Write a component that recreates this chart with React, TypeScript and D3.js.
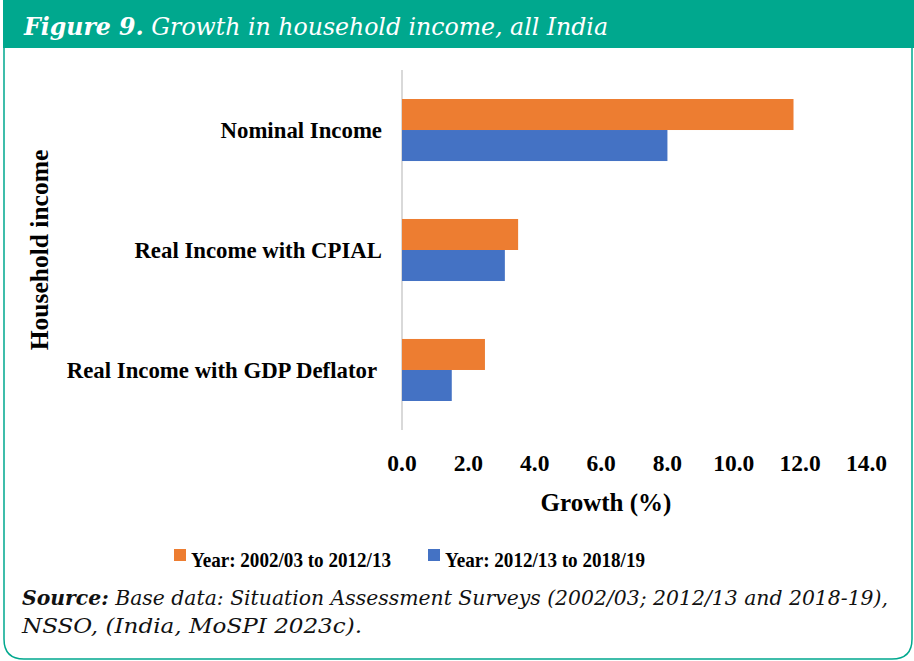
import React from "react";
import * as d3 from "d3";

const categories = ["Nominal Income", "Real Income with CPIAL", "Real Income with GDP Deflator"];
const seriesNames = ["Year: 2002/03 to 2012/13", "Year: 2012/13 to 2018/19"];
const series1 = [11.8, 3.5, 2.5];
const series2 = [8.0, 3.1, 1.5];
const xTicks = [0, 2, 4, 6, 8, 10, 12, 14];
const colors = ["#ED7D31", "#4472C4"];

const W = 914;
const H = 661;
const TEAL = "#00A88E";

export default function App() {
  const x = d3.scaleLinear().domain([0, 14]).range([402, 866.5]);
  const y = d3.scaleBand<string>().domain(categories).range([70, 430]).paddingInner(0.483).paddingOuter(0.2417);
  const inner = d3.scaleBand<number>().domain([0, 1]).range([0, y.bandwidth()]);
  const values = [series1, series2];
  const serif = "'Liberation Serif', 'Times New Roman', serif";
  const headFont = "'DejaVu Serif', serif";

  return (
    <svg width={W} height={H} style={{ position: "absolute", left: 0, top: 0 }}>
      <rect x={0} y={0} width={W} height={H} fill="#fff" />
      <path
        d={`M4,48 L4,639 Q4,659 24,659 L892,659 Q912,659 912,639 L912,48`}
        fill="none"
        stroke={TEAL}
        strokeWidth={1.5}
      />
      <rect x={3} y={0} width={911} height={48} fill={TEAL} />
      <text x={24} y={35} fill="#fff" fontFamily={headFont} fontSize={24} fontStyle="italic" fontStretch="condensed" textLength={584} lengthAdjust="spacingAndGlyphs">
        <tspan fontWeight="bold">Figure 9.</tspan>
        <tspan fontWeight={300}> Growth in household income, all India</tspan>
      </text>

      {/* axis line */}
      <line x1={x(0)} x2={x(0)} y1={70} y2={430} stroke="#d9d9d9" strokeWidth={2} />

      {categories.map((c, i) => (
        <g key={c}>
          {values.map((vals, s) => (
            <rect
              key={s}
              x={x(0)}
              y={(y(c) as number) + (inner(s) as number)}
              width={x(vals[i]) - x(0)}
              height={inner.bandwidth()}
              fill={colors[s]}
            />
          ))}
          <text
            x={i === 2 ? 377 : 382}
            y={(y(c) as number) + y.bandwidth() / 2 + 8}
            textAnchor="end"
            fontFamily={serif}
            fontWeight="bold"
            fontSize={22.8}
            fill="#000"
          >
            {c}
          </text>
        </g>
      ))}

      {xTicks.map((t) => (
        <text key={t} x={x(t)} y={471} textAnchor="middle" fontFamily={serif} fontWeight="bold" fontSize={23.5} fill="#000">
          {t.toFixed(1)}
        </text>
      ))}

      <text x={606} y={511} textAnchor="middle" fontFamily={serif} fontWeight="bold" fontSize={25} fill="#000">
        Growth (%)
      </text>
      <text
        transform={`translate(48,250) rotate(-90)`}
        textAnchor="middle"
        fontFamily={serif}
        fontWeight="bold"
        fontSize={25.5}
        fill="#000"
      >
        Household income
      </text>

      {/* legend */}
      {seriesNames.map((n, s) => {
        const lx = [174, 428][s];
        return (
          <g key={n}>
            <rect x={lx} y={549} width={12} height={12} fill={colors[s]} />
            <text x={lx + 17} y={567} fontFamily={serif} fontWeight="bold" fontSize={22} fill="#000" textLength={200} lengthAdjust="spacingAndGlyphs">
              {n}
            </text>
          </g>
        );
      })}

      <text x={22} y={605} fontFamily={headFont} fontSize={20} fontStyle="italic" fill="#111" textLength={866} lengthAdjust="spacingAndGlyphs">
        <tspan fontWeight="bold">Source:</tspan>
        <tspan> Base data: Situation Assessment Surveys (2002/03; 2012/13 and 2018-19),</tspan>
      </text>
      <text x={22} y={633} fontFamily={headFont} fontSize={20} fontStyle="italic" fill="#111" textLength={340} lengthAdjust="spacingAndGlyphs">
        NSSO, (India, MoSPI 2023c).
      </text>
    </svg>
  );
}
